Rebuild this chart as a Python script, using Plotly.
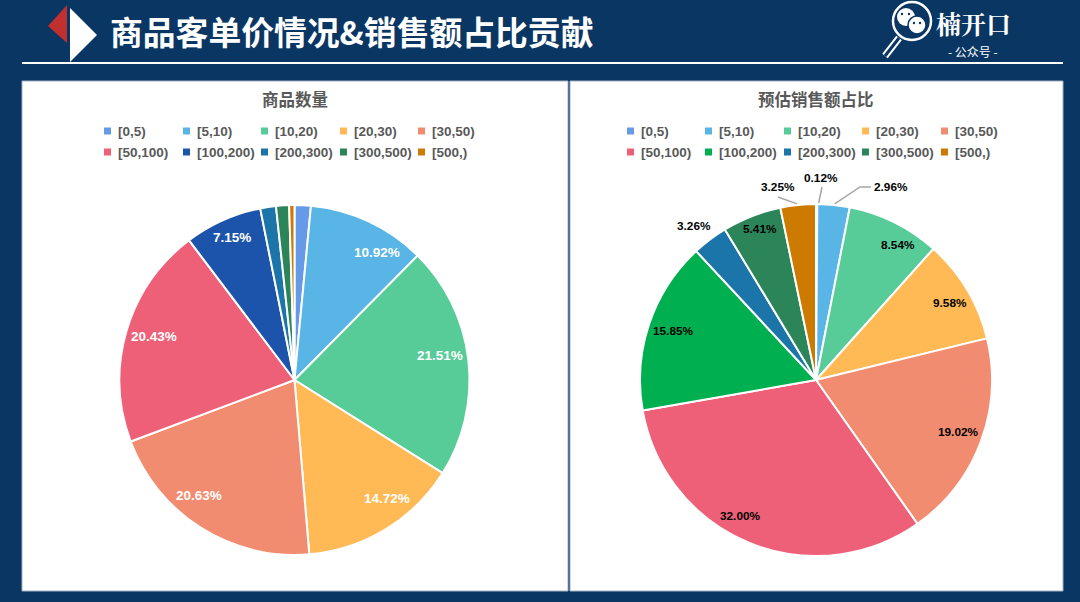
import math
import plotly.graph_objects as go

W, H = 1080, 602
categories = ["[0,5)", "[5,10)", "[10,20)", "[20,30)", "[30,50)", "[50,100)", "[100,200)", "[200,300)", "[300,500)", "[500,)"]
count_share = [1.5, 10.92, 21.51, 14.72, 20.63, 20.43, 7.15, 1.45, 1.2, 0.49]
sales_share = [0.12, 2.96, 8.54, 9.58, 19.02, 32.00, 15.85, 3.26, 5.41, 3.25]
count_colors = ["#6699E8", "#59B5E6", "#57CC99", "#FFB955", "#F28C71", "#EE5F78", "#1C54AC", "#1C75A8", "#2B8559", "#CC7A00"]
sales_colors = ["#6699E8", "#59B5E6", "#57CC99", "#FFB955", "#F28C71", "#EE5F78", "#00B050", "#1C75A8", "#2B8559", "#CC7A00"]
title_main = "商品客单价情况&销售额占比贡献"
title_left = "商品数量"
title_right = "预估销售额占比"
brand = "楠开口"
brand_sub = "- 公众号 -"

NAVY = "#0A3663"
GREY = "#595959"
FONT = "Liberation Sans"
CJK = "Noto Sans CJK SC"

def X(p): return p / W
def Y(p): return 1 - p / H

shapes, annotations = [], []

def rect(x0, y0, x1, y1, fill, line=None, lw=0):
    shapes.append(dict(type="rect", xref="paper", yref="paper", x0=X(x0), x1=X(x1), y0=Y(y0), y1=Y(y1),
                       fillcolor=fill, line=dict(color=line or fill, width=lw), layer="below"))

def poly(pts, fill):
    d = "M" + "L".join(f"{X(a):.5f},{Y(b):.5f}" for a, b in pts) + "Z"
    shapes.append(dict(type="path", xref="paper", yref="paper", path=d, fillcolor=fill, line=dict(width=0), layer="below"))

def seg(pts, color, lw):
    d = "M" + "L".join(f"{X(a):.5f},{Y(b):.5f}" for a, b in pts)
    shapes.append(dict(type="path", xref="paper", yref="paper", path=d, line=dict(color=color, width=lw), layer="above"))

def circle(cx, cy, r, fill, line=None, lw=0):
    shapes.append(dict(type="circle", xref="paper", yref="paper", x0=X(cx - r), x1=X(cx + r), y0=Y(cy + r), y1=Y(cy - r),
                       fillcolor=fill, line=dict(color=line or fill, width=lw), layer="above"))

def text(x, y, s, size, color, family=FONT, bold=False, anchor="center"):
    annotations.append(dict(xref="paper", yref="paper", x=X(x), y=Y(y), text=f"<b>{s}</b>" if bold else s, showarrow=False,
                            xanchor=anchor, yanchor="middle", borderpad=0,
                            font=dict(size=size, color=color, family=family)))

# panels and header
rect(22, 81, 568, 591, "#FFFFFF", "#A3B1C4", 1)
rect(570, 81, 1063, 591, "#FFFFFF", "#A3B1C4", 1)
rect(22, 62, 1063, 64, "#FFFFFF")
poly([(48, 26), (67, 5), (67, 43)], "#C0302E")
poly([(70, 8), (97, 35), (70, 62)], "#FFFFFF")
text(108.5, 31, title_main, 32.8, "#FFFFFF", CJK, True, "left")
text(294.5, 99, title_left, 16.5, GREY, CJK, True)
text(816, 99, title_right, 16.5, GREY, CJK, True)

# logo
seg([(899, 38), (885, 56)], "#FFFFFF", 7)
seg([(899, 38), (885, 56)], NAVY, 3)
circle(912, 21, 19, NAVY, "#FFFFFF", 2.5)
circle(906, 17, 9, "#FFFFFF")
circle(917, 25, 9, "#FFFFFF", NAVY, 1.5)
for cx, cy, r in [(902, 14, 1.2), (909, 14, 1.2), (914, 23, 1.2), (920, 23, 1.2)]:
    circle(cx, cy, r, NAVY)
text(973, 22.5, brand, 25, "#FFFFFF", "Noto Serif CJK SC, " + CJK, True)
text(973, 51, brand_sub, 12, "#FFFFFF", CJK)

# legends
legend_left = [104, 183, 261, 340, 418]
legend_right = [627, 705, 784, 862, 941]
legend_rows = [131, 152]
for starts, colors in ((legend_left, count_colors), (legend_right, sales_colors)):
    for i, cat in enumerate(categories):
        x = starts[i % 5]
        y = legend_rows[i // 5]
        rect(x, y - 3.5, x + 7, y + 3.5, colors[i])
        text(x + 12.5, y, cat, 13.5, GREY, FONT, True, "left")

# label nudges relative to a ray at 150 px through the slice middle
LABEL_R = 150
left_center, right_center = (294.5, 380), (816, 380)
R_left, R_right = 175, 176
count_nudge = [None, (18.5, 8), (-4, -7), (14, -10), (-15.5, -11), (3.5, -2), (-1.5, -6), None, None, None]
sales_nudge = [(4, -52), (59.5, -44), (15.5, -1), (5, 0), (2, -1), (-18.5, -3), (0, -1), (-32, -34), (-1, -11), (-23, -44)]

def slice_labels(values, center, radius, nudges, color, size):
    cum = 0
    total = sum(values)
    out = []
    for v, n in zip(values, nudges):
        a = 2 * math.pi * (cum + v / 2) / total
        cum += v
        s, c = math.sin(a), math.cos(a)
        out.append((center[0] + radius * s, center[1] - radius * c))
        if n is None:
            continue
        text(center[0] + LABEL_R * s + n[0], center[1] - LABEL_R * c + n[1], f"{v:.2f}%", size, color, FONT, True)
    return out

slice_labels(count_share, left_center, R_left, count_nudge, "#FFFFFF", 13.5)
edge = slice_labels(sales_share, right_center, R_right, sales_nudge, "#000000", 11.8)

# leader lines of the outside labels
LEADER = "#A6A6A6"
seg([(edge[0][0] + 2, edge[0][1] - 1), (822, 187)], LEADER, 1.5)
seg([(edge[1][0] + 1, edge[1][1] - 1), (860, 187), (871, 187)], LEADER, 1.5)
seg([(edge[9][0] - 1, edge[9][1] - 1), (778, 197)], LEADER, 1.5)

def pie(values, colors, center, radius):
    return go.Pie(labels=categories, values=values, sort=False, direction="clockwise", rotation=0,
                  textinfo="none", hoverinfo="label+percent", showlegend=False,
                  marker=dict(colors=colors, line=dict(color="#FFFFFF", width=2)),
                  domain=dict(x=[X(center[0] - radius), X(center[0] + radius)], y=[Y(center[1] + radius), Y(center[1] - radius)]))

fig = go.Figure([pie(count_share, count_colors, left_center, R_left), pie(sales_share, sales_colors, right_center, R_right)])
fig.update_layout(width=W, height=H, margin=dict(l=0, r=0, t=0, b=0), paper_bgcolor=NAVY, plot_bgcolor=NAVY,
                  showlegend=False, shapes=shapes, annotations=annotations)
fig.write_html("out.html", config=dict(displayModeBar=False),
               post_script="document.body.style.margin='0';document.body.style.overflow='hidden';")
